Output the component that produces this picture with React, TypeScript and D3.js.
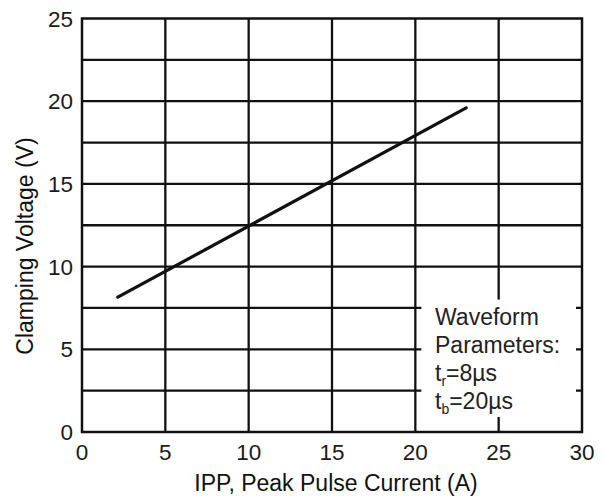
import React, { useRef, useEffect } from "react";
import * as d3 from "d3";

// chart data
const xTicks = [0, 5, 10, 15, 20, 25, 30];
const yTicks = [0, 5, 10, 15, 20, 25];
const yGrid = [2.5, 5, 7.5, 10, 12.5, 15, 17.5, 20, 22.5];
const xGrid = [5, 10, 15, 20, 25];
const currentA = [2.15, 23.05];
const clampV = [8.15, 19.6];
const noteLines = ["Waveform", "Parameters:"];
const pulseParams = [
  { sym: "t", sub: "r", val: "=8µs" },
  { sym: "t", sub: "b", val: "=20µs" },
];

const FONT = "'Liberation Sans', Arial, sans-serif";

function App() {
  const ref = useRef<SVGSVGElement | null>(null);

  useEffect(() => {
    const svg = d3.select(ref.current);
    svg.selectAll("*").remove();

    const margin = { top: 18.5, right: 22, bottom: 68, left: 82 };
    const width = 604;
    const height = 500;
    const innerW = width - margin.left - margin.right;
    const innerH = height - margin.top - margin.bottom;

    const x = d3.scaleLinear().domain([0, 30]).range([0, innerW]);
    const y = d3.scaleLinear().domain([0, 25]).range([innerH, 0]);

    const g = svg
      .append("g")
      .attr("transform", `translate(${margin.left},${margin.top})`);

    // grid
    g.selectAll("line.hgrid")
      .data(yGrid)
      .enter()
      .append("line")
      .attr("x1", 0)
      .attr("x2", innerW)
      .attr("y1", (d) => y(d))
      .attr("y2", (d) => y(d))
      .attr("stroke", "#111")
      .attr("stroke-width", 2.3);

    g.selectAll("line.vgrid")
      .data(xGrid)
      .enter()
      .append("line")
      .attr("x1", (d) => x(d))
      .attr("x2", (d) => x(d))
      .attr("y1", 0)
      .attr("y2", innerH)
      .attr("stroke", "#111")
      .attr("stroke-width", 2.3);

    // note box covers the grid in the lower right
    g.append("rect")
      .attr("x", x(20) + 6)
      .attr("y", y(10) + 33)
      .attr("width", x(30) - x(20) - 12)
      .attr("height", y(0) - y(10) - 48)
      .attr("fill", "#fff");

    // frame
    g.append("rect")
      .attr("x", 0)
      .attr("y", 0)
      .attr("width", innerW)
      .attr("height", innerH)
      .attr("fill", "none")
      .attr("stroke", "#111")
      .attr("stroke-width", 2.5);

    // curve
    const pts = currentA.map((c, i) => [c, clampV[i]] as [number, number]);
    g.append("path")
      .datum(pts)
      .attr(
        "d",
        d3
          .line<[number, number]>()
          .x((d) => x(d[0]))
          .y((d) => y(d[1]))
      )
      .attr("fill", "none")
      .attr("stroke", "#111")
      .attr("stroke-width", 3.2)
      .attr("stroke-linecap", "round");

    // tick labels
    g.selectAll("text.xt")
      .data(xTicks)
      .enter()
      .append("text")
      .attr("x", (d) => x(d))
      .attr("y", innerH + 28)
      .attr("text-anchor", "middle")
      .attr("font-family", FONT)
      .attr("font-size", 22.5)
      .attr("fill", "#1a1a1a")
      .text((d) => d);

    g.selectAll("text.yt")
      .data(yTicks)
      .enter()
      .append("text")
      .attr("x", -9)
      .attr("y", (d) => y(d))
      .attr("dy", "0.36em")
      .attr("text-anchor", "end")
      .attr("font-family", FONT)
      .attr("font-size", 22.5)
      .attr("fill", "#1a1a1a")
      .text((d) => d);

    // axis titles
    svg
      .append("text")
      .attr("x", 336)
      .attr("y", 491)
      .attr("text-anchor", "middle")
      .attr("font-family", FONT)
      .attr("font-size", 23)
      .attr("fill", "#111")
      .text("IPP, Peak Pulse Current (A)");

    svg
      .append("text")
      .attr("transform", "translate(33,246) rotate(-90)")
      .attr("text-anchor", "middle")
      .attr("font-family", FONT)
      .attr("font-size", 23)
      .attr("fill", "#111")
      .text("Clamping Voltage (V)");

    // note text
    const noteX = 435;
    const noteY = 325;
    const step = 28;
    noteLines.forEach((t, i) => {
      svg
        .append("text")
        .attr("x", noteX)
        .attr("y", noteY + i * step)
        .attr("font-family", FONT)
        .attr("font-size", 23)
        .attr("fill", "#222")
        .text(t);
    });
    pulseParams.forEach((p, i) => {
      const t = svg
        .append("text")
        .attr("x", noteX)
        .attr("y", noteY + (i + 2) * step)
        .attr("font-family", FONT)
        .attr("font-size", 23)
        .attr("fill", "#222");
      t.append("tspan").text(p.sym);
      t.append("tspan")
        .attr("font-size", 14)
        .attr("dy", 5)
        .text(p.sub);
      t.append("tspan").attr("dy", -5).text(p.val);
    });
  }, []);

  return (
    <div>
      <svg
        ref={ref}
        width="604"
        height="500"
        style={{ position: "absolute", left: 0, top: 0, background: "#fff" }}
      ></svg>
    </div>
  );
}

export default App;
